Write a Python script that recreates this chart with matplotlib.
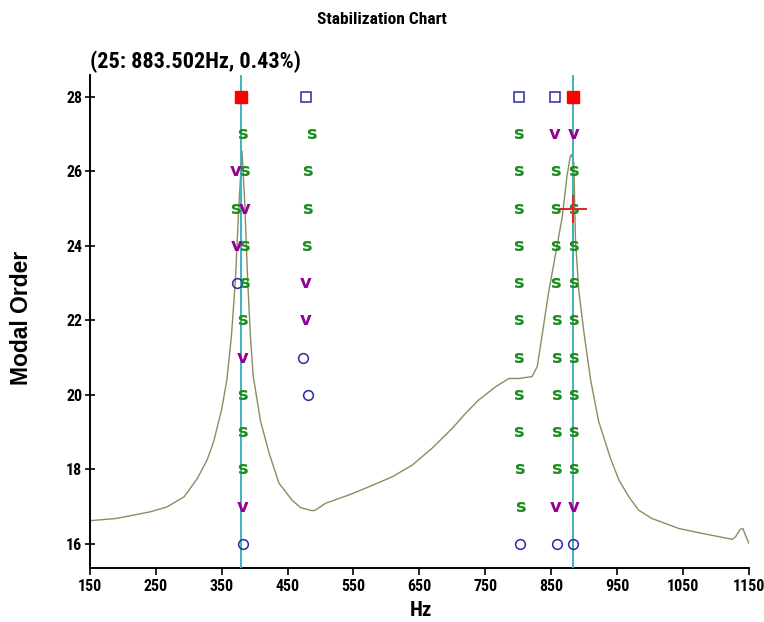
import matplotlib
matplotlib.use("Agg")
import matplotlib.pyplot as plt
from matplotlib import font_manager

plt.rcParams['font.family'] = ['Liberation Sans', 'DejaVu Sans']

# pick a narrow bold face for title / ticks if one is installed
installed = {f.name for f in font_manager.fontManager.ttflist}
narrow = next((n for n in ['Liberation Sans Narrow', 'Roboto Condensed', 'Open Sans Condensed',
                           'DejaVu Sans Condensed'] if n in installed), 'Liberation Sans')

# frequency response curve, scaled onto the modal-order axis
curve_hz = [150, 190, 242, 267, 293, 313, 328, 338, 350, 358, 365, 371, 376, 381,
            385, 389.5, 394, 398, 409, 422, 437, 457, 470, 487, 492, 508, 543, 568,
            609, 639, 669, 700, 720, 740, 766, 786, 801, 821, 829, 836, 846, 857,
            867, 874, 879, 881, 884.5, 887, 892, 900, 910, 922, 940, 953, 968, 983,
            1003, 1044, 1079, 1125, 1130, 1137, 1141, 1145, 1150]
curve_val = [16.62, 16.68, 16.86, 16.99, 17.26, 17.75, 18.25, 18.75, 19.6, 20.4, 21.6,
             23.1, 25.0, 26.55, 25.2, 23.1, 21.5, 20.5, 19.3, 18.44, 17.63, 17.17,
             16.97, 16.89, 16.9, 17.09, 17.31, 17.49, 17.8, 18.11, 18.56, 19.1, 19.5,
             19.86, 20.22, 20.44, 20.44, 20.49, 20.76, 21.56, 22.73, 23.8, 24.79,
             25.86, 26.4, 26.45, 26.22, 24.16, 22.8, 21.65, 20.4, 19.3, 18.3, 17.71,
             17.26, 16.9, 16.68, 16.41, 16.28, 16.12, 16.19, 16.39, 16.41, 16.23, 16.02]

# selected modes (vertical lines)
selected_hz = [380, 883.5]

# stable poles "s"
s_hz = [382, 385, 371, 385, 385, 382, 382, 382, 382,
        486, 481, 481, 479,
        801, 801, 801, 801, 801, 801, 801, 801, 801, 802, 803,
        856, 856, 857, 857, 858, 858, 858, 858, 858,
        884, 883.5, 884, 884, 884, 884, 884, 884, 884]
s_order = [27, 26, 25, 24, 23, 22, 20, 19, 18,
           27, 26, 25, 24,
           27, 26, 25, 24, 23, 22, 21, 20, 19, 18, 17,
           26, 25, 24, 23, 22, 21, 20, 19, 18,
           26, 25, 24, 23, 22, 21, 20, 19, 18]

# poles stable in frequency "v"
v_hz = [371, 385, 372, 382, 382, 478, 477, 856, 857, 883.5, 884]
v_order = [26, 25, 24, 21, 17, 23, 22, 27, 17, 27, 17]

# new / unstable poles (open circles)
o_hz = [373, 382, 474, 481, 803, 858.5, 883.5]
o_order = [23, 16, 21, 20, 16, 16, 16]

# open squares
sq_hz = [478, 801, 856]
sq_order = [28, 28, 28]

# filled red squares
red_hz = [380, 883.5]
red_order = [28, 28]

# cursor
cursor_hz = 883.5
cursor_order = 25

x_ticks = [150, 250, 350, 450, 550, 650, 750, 850, 950, 1050, 1150]
y_ticks = [16, 18, 20, 22, 24, 26, 28]

fig = plt.figure(figsize=(7.64, 6.22), dpi=100)
ax = fig.add_axes([89.8 / 764, 1 - 568 / 622, 659 / 764, (568 - 75) / 622])

ax.plot(curve_hz, curve_val, color="#8c8c62", lw=1.0, zorder=2)
for f in selected_hz:
    ax.axvline(f, color="#3fb2c0", lw=1.4, zorder=3)

ax.plot(o_hz, o_order, "o", ms=7, mfc="none", mec="#2a2aa8", mew=1.1, zorder=4)
ax.plot(sq_hz, sq_order, "s", ms=7.5, mfc="none", mec="#2a2aa8", mew=1.1, zorder=4)
ax.plot(red_hz, red_order, "s", ms=8, mfc="#ff0000", mec="#ff0000", zorder=4)

for f, o in zip(s_hz, s_order):
    ax.text(f, o, "s", color="#1e8c1e", fontsize=13, fontweight="bold",
            family="DejaVu Sans", ha="center", va="center", zorder=5)
for f, o in zip(v_hz, v_order):
    ax.text(f, o, "v", color="#940094", fontsize=13, fontweight="bold",
            family="DejaVu Sans", ha="center", va="center", zorder=5)

ax.plot([cursor_hz], [cursor_order], "+", ms=20, mew=1.5, color="#e02828", zorder=6)

ax.set_xlim(150, 1150)
ax.set_ylim(15.35, 28.59)
ax.set_xticks(x_ticks)
ax.set_yticks(y_ticks)
for lab in ax.get_xticklabels() + ax.get_yticklabels():
    lab.set_fontweight("bold")
    lab.set_fontsize(11.5)
    lab.set_family(narrow)
ax.tick_params(axis="x", direction="out", length=5, width=1.2, pad=3)
ax.tick_params(axis="y", direction="inout", length=7, width=1.2, pad=2)
ax.spines["top"].set_visible(False)
ax.spines["right"].set_visible(False)
ax.spines["left"].set_linewidth(1.4)
ax.spines["bottom"].set_linewidth(1.4)

fig.text(0.5, 1 - 20 / 622, "Stabilization Chart", ha="center", va="center",
         fontsize=12.5, fontweight="bold", family=narrow)
fig.text(90 / 764, 1 - 62 / 622, "(25: 883.502Hz, 0.43%)", ha="left", va="center",
         fontsize=16, fontweight="bold", family=narrow)
fig.text(22 / 764, 1 - 318 / 622, "Modal Order", rotation=90, ha="center", va="center",
         fontsize=16.5, fontweight="bold")
fig.text(421 / 764, 1 - 610 / 622, "Hz", ha="center", va="center",
         fontsize=15, fontweight="bold", family=narrow)

fig.savefig("out.png", dpi=100)
